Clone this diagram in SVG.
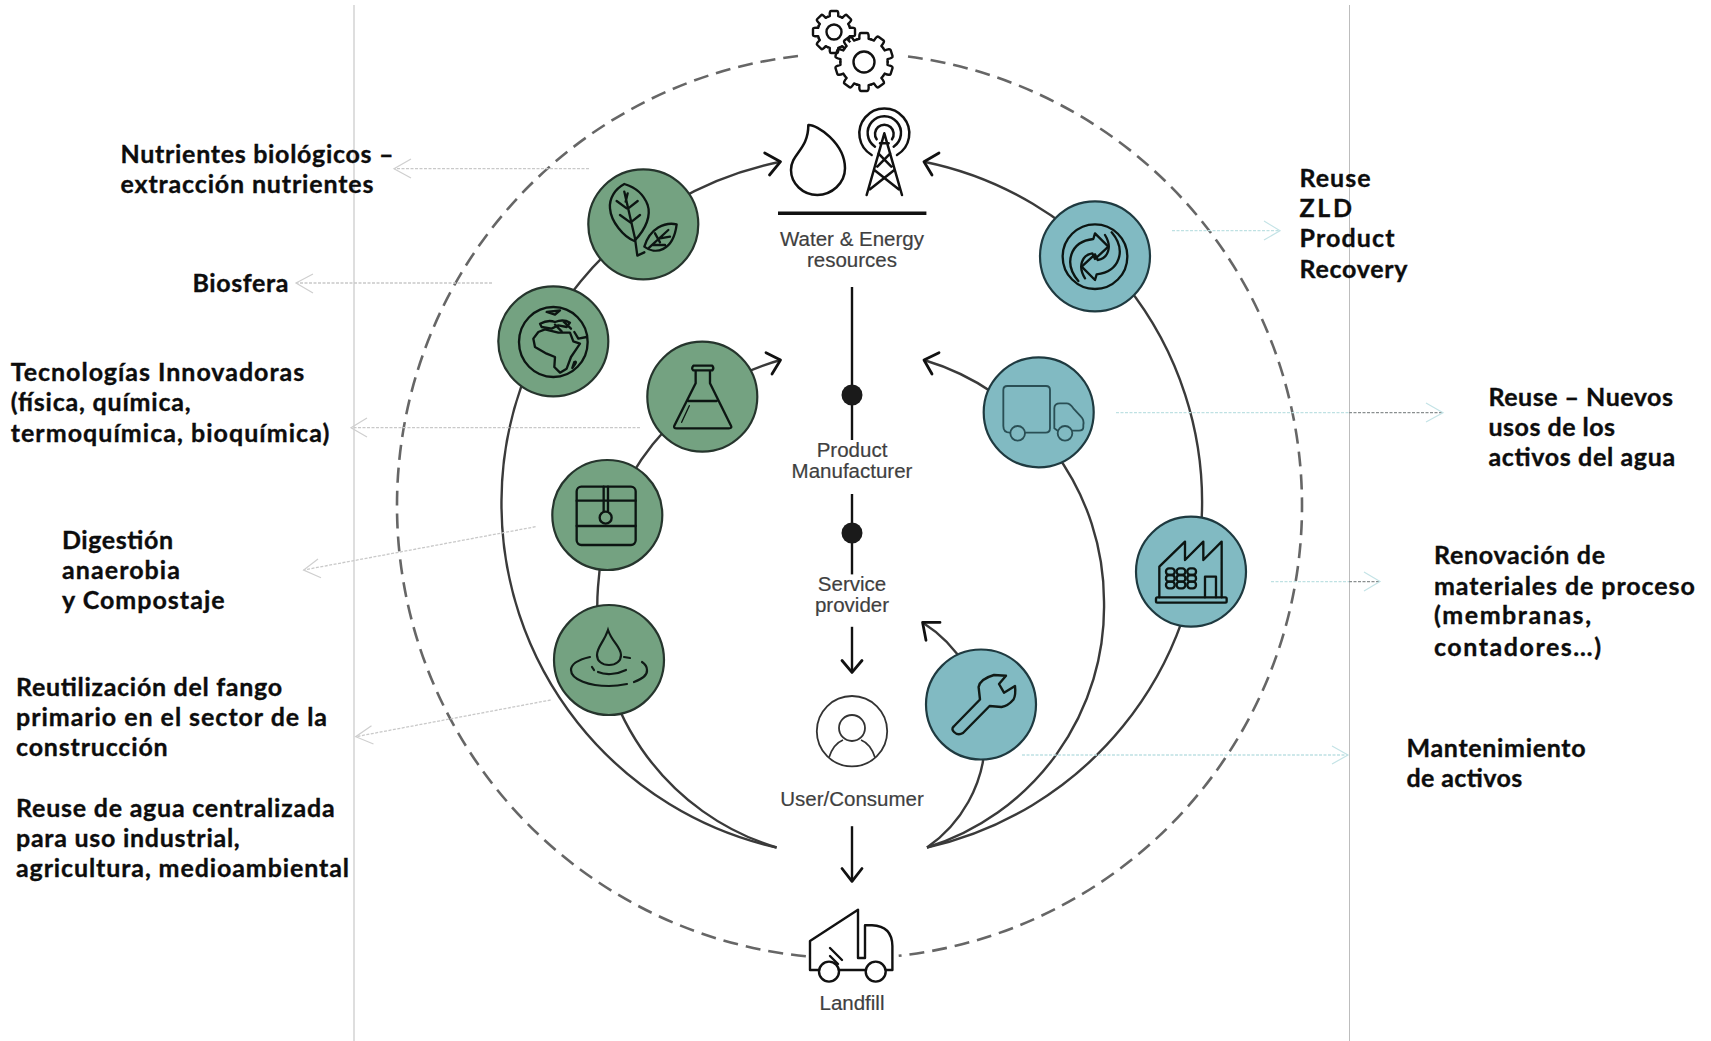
<svg xmlns="http://www.w3.org/2000/svg" xmlns:xlink="http://www.w3.org/1999/xlink" width="1711" height="1041" viewBox="0 0 1711 1041">
<style>
.bg{fill:#fff}
.guide{stroke:#bdbdbd;stroke-width:1;fill:none}
.dash{stroke:#666;stroke-width:2.6;fill:none;stroke-dasharray:15 8}
.cv{stroke:#3a3a3a;stroke-width:2.4;fill:none}
.bk{stroke:#111;stroke-width:2.8;fill:none;stroke-linecap:round;stroke-linejoin:round}
.gl{stroke:#c9c9c9;stroke-width:1.3;fill:none;stroke-dasharray:3 1.5}
.gh{stroke:#cfcfcf;stroke-width:1.2;fill:none}
.tl{stroke:#bfe1e3;stroke-width:1.3;fill:none;stroke-dasharray:3 1.5}
.th{stroke:#c4e3e6;stroke-width:1.2;fill:none}
.dl{stroke:#8a8f90;stroke-width:1.3;fill:none;stroke-dasharray:3 1.5}
.g{fill:#74a281;stroke:#26352d;stroke-width:2.2}
.t{fill:#81bac2;stroke:#1f3a40;stroke-width:2.2}
.i{fill:none;stroke:#0c1512;stroke-width:7;stroke-linecap:round;stroke-linejoin:round}
.it{fill:none;stroke:#2a4f55;stroke-width:5.500;stroke-linecap:round;stroke-linejoin:round}
.ln{fill:none;stroke:#111;stroke-width:2.400;stroke-linecap:round;stroke-linejoin:round}
.lbl{font-family:"Lato","Liberation Sans",sans-serif;font-weight:700;font-size:25px;fill:#0d0d0d;stroke:#0d0d0d;stroke-width:.35}
.sm{font-family:"Liberation Sans",Arial,sans-serif;font-size:20.5px;fill:#3f3f3f;text-anchor:middle;stroke:#3f3f3f;stroke-width:.2}
</style>
<defs>
<path id="t8" d="M-6.3 -15.2 L-4.2 -15.8 Q-4.6 -21 -3 -21 L3 -21 Q4.6 -21 4.2 -15.8 L6.3 -15.2"/>
<path id="t10" d="M-7.3 -22.5 L-4.6 -23.2 Q-5 -29 -3.2 -29 L3.2 -29 Q5 -29 4.6 -23.2 L7.3 -22.5"/>
</defs>
<rect class="bg" width="1711" height="1041"/>
<g id="guides">
<line class="guide" x1="354" y1="5" x2="354" y2="1041"/>
<line class="guide" x1="1349.5" y1="5" x2="1349.5" y2="1041"/>
</g>
<g id="connectors">
<path class="dash" d="M798 56 A452.500 452.500 0 0 0 397 505.500 A452.500 452.500 0 0 0 809 956.500"/>
<path class="dash" d="M908 56.500 A452.500 452.500 0 0 1 1302 505.500 A452.500 452.500 0 0 1 898.700 955.800"/>
<path class="cv" d="M776.600 847.500 A352 352 0 0 1 501.500 500 A347 347 0 0 1 780.500 161.700"/>
<path class="bk" d="M764.700 153 L780.500 161.700 L769.500 175"/>
<path class="cv" d="M927 847.500 A352 352 0 0 0 1202 510 A347 347 0 0 0 924 161.700"/>
<path class="bk" d="M939 153 L924 161.700 L932 175"/>
<path class="cv" d="M776.600 847.500 A252 252 0 0 1 598 587 A250 250 0 0 1 780.500 360"/>
<path class="bk" d="M766 352.700 L780.500 360 L772 374"/>
<path class="cv" d="M927 847.500 A252 252 0 0 0 1104 601 A252 252 0 0 0 924 360"/>
<path class="bk" d="M939 352.700 L924 360 L932 374"/>
<path class="cv" d="M927 847.500 A135 135 0 0 0 922.600 622.400"/>
<path class="bk" d="M940 622.400 L922.600 622.400 L926 640.300"/>
<line x1="778" y1="213.300" x2="926.400" y2="213.300" stroke="#111" stroke-width="3.400"/>
<g stroke="#111" stroke-width="2.400" fill="none">
<line x1="852" y1="287" x2="852" y2="440"/>
<line x1="852" y1="494" x2="852" y2="574.400"/>
<line x1="852" y1="626.800" x2="852" y2="672.400"/>
<path class="bk" d="M842 660.500 L852 672.400 L862 660.500"/>
<line x1="852" y1="826.200" x2="852" y2="881.300"/>
<path class="bk" d="M842 868.500 L852 881.300 L862 868.500"/>
</g>
<circle cx="852" cy="395" r="10.500" fill="#1a1a1a"/>
<circle cx="852" cy="533" r="10.500" fill="#1a1a1a"/>
<line class="gl" x1="589" y1="168.700" x2="394" y2="168.700"/><path class="gh" d="M411 159 L394 168.700 L411 178"/>
<line class="gl" x1="492" y1="283" x2="296" y2="283"/><path class="gh" d="M313 274 L296 283 L313 293"/>
<line class="gl" x1="640" y1="427.700" x2="351" y2="427.700"/><path class="gh" d="M367 418 L351 427.700 L367 437"/>
<line class="gl" x1="535.600" y1="526.700" x2="303.600" y2="570"/><path class="gh" d="M318 559 L303.600 570 L321 577.700"/>
<line class="gl" x1="550.600" y1="700" x2="355.700" y2="736.700"/><path class="gh" d="M371.500 725.700 L355.700 736.700 L373.500 744"/>
<line class="tl" x1="1172" y1="230.700" x2="1280" y2="230.700"/><path class="th" d="M1264 221 L1280 230.700 L1264 240"/>
<line class="tl" x1="1116" y1="412.700" x2="1349" y2="412.700"/><line class="dl" x1="1349" y1="412.700" x2="1443" y2="412.700"/><path class="th" d="M1426 403 L1443 412.700 L1426 422"/>
<line class="tl" x1="1271" y1="581.600" x2="1349" y2="581.600"/><line class="dl" x1="1349" y1="581.600" x2="1380" y2="581.600"/><path class="th" d="M1364 572 L1380 581.600 L1364 591"/>
<line class="tl" x1="1022" y1="755" x2="1348" y2="755"/><path class="th" d="M1332 746 L1348 755 L1332 764"/>
</g>
<g id="gears" class="ln">
<g transform="translate(834 32)"><circle r="16" fill="#fff" stroke="none"/><use xlink:href="#t8"/><use xlink:href="#t8" transform="rotate(45)"/><use xlink:href="#t8" transform="rotate(90)"/><use xlink:href="#t8" transform="rotate(135)"/><use xlink:href="#t8" transform="rotate(180)"/><use xlink:href="#t8" transform="rotate(225)"/><use xlink:href="#t8" transform="rotate(270)"/><use xlink:href="#t8" transform="rotate(315)"/><circle r="7.500"/></g>
<g transform="translate(864 62)"><circle r="24" fill="#fff" stroke="none"/><use xlink:href="#t10"/><use xlink:href="#t10" transform="rotate(36)"/><use xlink:href="#t10" transform="rotate(72)"/><use xlink:href="#t10" transform="rotate(108)"/><use xlink:href="#t10" transform="rotate(144)"/><use xlink:href="#t10" transform="rotate(180)"/><use xlink:href="#t10" transform="rotate(216)"/><use xlink:href="#t10" transform="rotate(252)"/><use xlink:href="#t10" transform="rotate(288)"/><use xlink:href="#t10" transform="rotate(324)"/><circle r="10.500"/></g>
</g>
<g id="node-resources">
<g transform="translate(780 100) scale(.3333)" fill="none" stroke="#111" stroke-width="7.500" stroke-linecap="round" stroke-linejoin="round">
<path d="M85 75 C110 72 195 130 195 205 C195 250 155 285 112 285 C68 285 33 250 33 210 C33 160 85 150 85 75 Z"/>
<path d="M275 165 A75 75 0 1 1 351 165"/>
<path d="M285 140 A50 50 0 1 1 341 140"/>
<path d="M290 118 A28 28 0 1 1 336 118"/>
<path d="M313 100 L260 285 M313 100 L366 285 M300 130 L326 130 M295 160 L334 200 M331 160 L292 200 M283 210 L356 268 M343 210 L270 268"/>
</g>
<text class="sm" x="852" y="246">Water &amp; Energy</text>
<text class="sm" x="852" y="266.500">resources</text>
</g>
<g id="node-product"><text class="sm" x="852" y="456.700">Product</text><text class="sm" x="852" y="477.700">Manufacturer</text></g>
<g id="node-service"><text class="sm" x="852" y="590.600">Service</text><text class="sm" x="852" y="611.600">provider</text></g>
<g id="node-user">
<circle cx="852" cy="731.200" r="35.200" fill="none" stroke="#333" stroke-width="1.800"/>
<ellipse cx="852" cy="728" rx="13" ry="13" fill="none" stroke="#333" stroke-width="1.800"/>
<path d="M829 757.500 C832 748 838 742 843 740 M875 757.500 C872 748 866 742 861 740" fill="none" stroke="#333" stroke-width="1.800"/>
<text class="sm" x="852" y="806">User/Consumer</text>
</g>
<g id="node-landfill">
<path class="ln" d="M819 970 L810 970 L810 941 L858 909.700 L858 958 L865 958 L865 925.300 L872 925.300 Q892 926 892.400 946 L892.400 970 L886 970 M839 970 L865 970 M830 948 L842 960 M830 956 L838 964"/>
<circle class="ln" cx="829" cy="971.600" r="10"/><circle class="ln" cx="875.700" cy="971.600" r="10"/>
<text class="sm" x="852" y="1009.800">Landfill</text>
</g>
<g id="node-leaf">
<circle class="g" cx="643.300" cy="224.300" r="55"/>
<g class="i" transform="translate(585 165) scale(.3333)">
<path d="M118 57 C90 72 72 100 75 130 C78 170 115 215 148 228 C185 190 198 150 188 120 C175 85 145 65 118 57 Z"/>
<path d="M118 80 L150 220 L157 272 L178 262 M122 110 L128 85 M130 130 L158 108 M140 170 L165 150 M105 150 L140 175 M95 108 L125 130"/>
<path d="M275 178 C240 170 195 190 178 245 C210 270 265 260 275 178 Z M190 250 L250 195 M205 240 L240 240 M225 220 L255 215 M210 205 L225 232"/>
</g>
</g>
<g id="node-globe">
<circle class="g" cx="553.300" cy="341.300" r="55"/>
<g class="i" transform="translate(495 282) scale(.3333)">
<ellipse cx="175" cy="180" rx="103" ry="105"/>
<path d="M130 150 L115 170 L120 195 L155 215 L180 225 L178 255 L195 272 L215 260 L228 225 L245 200 L255 185 L235 178 L225 152 L190 152 L150 142 Z"/>
<path d="M135 125 Q160 112 180 120 Q205 110 225 122 L215 135 L190 130 L170 140 L140 135 Z M155 90 L195 85 L180 98 Z M238 150 L250 170 L275 165 M238 240 Q250 235 232 258 Z M180 128 L200 148 M205 118 L228 140"/>
</g>
</g>
<g id="node-flask">
<circle class="g" cx="702.300" cy="396.700" r="55"/>
<g class="i" transform="translate(545 335) scale(.3333)">
<path d="M445 92 H502 Q508 100 502 106 H445 Q438 100 445 92 Z M452 106 V145 L388 272 Q385 280 395 280 H552 Q562 280 558 272 L495 145 V106 M430 198 H515"/>
<path d="M433 212 L410 262" stroke-width="4"/>
</g>
</g>
<g id="node-digest">
<circle class="g" cx="607.300" cy="515" r="55"/>
<g class="i" transform="translate(545 335) scale(.3333)">
<rect x="95" y="455" width="177" height="175" rx="14"/>
<path d="M95 497 H272 M95 573 H272 M176 455 V528 M189 455 V528"/>
<circle cx="182" cy="548" r="18"/>
</g>
</g>
<g id="node-drop">
<circle class="g" cx="609" cy="660" r="55"/>
<g fill="none" stroke="#101a16" stroke-width="2.200" stroke-linecap="round">
<path d="M608 630 C604 642 597 647 597 655 C597 661 602 665 609 665 C616 665 621 661 621 655 C621 647 612 642 608 630 Z"/>
<path d="M590 657 C577 660 571 664 571 670 C571 680 590 686 609 686 C616 686 622 685 627 684 M634 682 C642 679 647.500 675 647 670 C647 667 645 664 642 662 M624 657 L630 658"/>
<path d="M592 667 L594 670 M598 672 C605 675 616 675 626 670"/>
</g>
</g>
<g id="node-recycle">
<circle class="t" cx="1095" cy="256.300" r="55"/>
<g class="i" transform="translate(1035 195) scale(.3333)">
<circle cx="180" cy="185" r="97"/>
<path d="M130 258 C85 205 105 140 175 132 L180 115 L220 155 L180 192 L172 175 C140 180 128 215 150 250"/>
<path transform="rotate(180 180 185)" d="M130 258 C85 205 105 140 175 132 L180 115 L220 155 L180 192 L172 175 C140 180 128 215 150 250"/>
</g>
</g>
<g id="node-truck">
<circle class="t" cx="1038.700" cy="412.300" r="55"/>
<g class="it" transform="translate(975 350) scale(.3333)">
<path d="M105 248 Q85 248 85 228 V120 Q85 108 97 108 H213 Q225 108 225 120 V235 Q225 248 212 248 H150"/>
<circle cx="128" cy="250" r="22"/><circle cx="270" cy="250" r="22"/>
<path d="M248 242 L238 235 V175 Q238 160 255 160 H275 Q285 160 295 175 L318 200 Q328 210 325 225 V232 Q325 242 312 242 H292"/>
</g>
</g>
<g id="node-factory">
<circle class="t" cx="1191" cy="571.700" r="55"/>
<g class="i" transform="translate(1130 510) scale(.3333)">
<rect x="78" y="262" width="212" height="16" rx="4"/>
<path d="M88 262 V170 L165 95 V150 L220 95 V150 L275 95 V262"/>
<rect x="108" y="175" width="26" height="20" rx="9"/><rect x="140" y="175" width="26" height="20" rx="9"/><rect x="172" y="175" width="26" height="20" rx="9"/>
<rect x="108" y="195" width="26" height="20" rx="9"/><rect x="140" y="195" width="26" height="20" rx="9"/><rect x="172" y="195" width="26" height="20" rx="9"/>
<rect x="108" y="215" width="26" height="20" rx="9"/><rect x="140" y="215" width="26" height="20" rx="9"/><rect x="172" y="215" width="26" height="20" rx="9"/>
<path d="M225 262 V200 H258 V262"/>
</g>
</g>
<g id="node-wrench">
<circle class="t" cx="981" cy="704.500" r="55"/>
<path d="M953.700 726.500 L980 699.500 L978.600 687 Q980 679 994 675 L1006 675.800 L999 684 L1004 692.700 L1015 686 Q1016 695 1013.500 699.500 Q1008 706 1001.500 707 L989.600 706 L963 733 Q958 736 954 732 Q951 729 953.700 726.500 Z" fill="none" stroke="#101a16" stroke-width="2.400" stroke-linejoin="round"/>
</g>
<g id="labels-left">
<text class="lbl" lengthAdjust="spacing" textLength="273" x="120.500" y="162.700">Nutrientes biológicos –</text>
<text class="lbl" lengthAdjust="spacing" textLength="253" x="120.500" y="192.700">extracción nutrientes</text>
<text class="lbl" lengthAdjust="spacing" textLength="96" x="192.500" y="291.700">Biosfera</text>
<text class="lbl" lengthAdjust="spacing" textLength="293.500" x="10.700" y="380.700">Tecnologías Innovadoras</text>
<text class="lbl" lengthAdjust="spacing" textLength="180" x="10.700" y="411">(física, química,</text>
<text class="lbl" lengthAdjust="spacing" textLength="318.600" x="10.700" y="441.700">termoquímica, bioquímica)</text>
<text class="lbl" lengthAdjust="spacing" textLength="111" x="62" y="549">Digestión</text>
<text class="lbl" lengthAdjust="spacing" textLength="118" x="62" y="579">anaerobia</text>
<text class="lbl" lengthAdjust="spacing" textLength="162.600" x="62" y="609">y Compostaje</text>
<text class="lbl" lengthAdjust="spacing" textLength="266" x="16" y="695.700">Reutilización del fango</text>
<text class="lbl" lengthAdjust="spacing" textLength="311" x="16" y="725.700">primario en el sector de la</text>
<text class="lbl" lengthAdjust="spacing" textLength="151.700" x="16" y="755.700">construcción</text>
<text class="lbl" lengthAdjust="spacing" textLength="318.600" x="16" y="816.700">Reuse de agua centralizada</text>
<text class="lbl" lengthAdjust="spacing" textLength="223.700" x="16" y="847">para uso industrial,</text>
<text class="lbl" lengthAdjust="spacing" textLength="333" x="16" y="877">agricultura, medioambiental</text>
</g>
<g id="labels-right">
<text class="lbl" lengthAdjust="spacing" textLength="71" x="1299.500" y="187">Reuse</text>
<text class="lbl" lengthAdjust="spacing" textLength="52.400" x="1299.500" y="217">ZLD</text>
<text class="lbl" lengthAdjust="spacing" textLength="95" x="1299.500" y="247">Product</text>
<text class="lbl" lengthAdjust="spacing" textLength="108" x="1299.500" y="278">Recovery</text>
<text class="lbl" lengthAdjust="spacing" textLength="184.400" x="1488.500" y="405.700">Reuse – Nuevos</text>
<text class="lbl" lengthAdjust="spacing" textLength="126.600" x="1488.500" y="436">usos de los</text>
<text class="lbl" lengthAdjust="spacing" textLength="186.600" x="1488.500" y="466">activos del agua</text>
<text class="lbl" lengthAdjust="spacing" textLength="171" x="1434" y="564">Renovación de</text>
<text class="lbl" lengthAdjust="spacing" textLength="260.800" x="1434" y="595">materiales de proceso</text>
<text class="lbl" lengthAdjust="spacing" textLength="157" x="1434" y="624">(membranas,</text>
<text class="lbl" lengthAdjust="spacing" textLength="167" x="1434" y="656">contadores…)</text>
<text class="lbl" lengthAdjust="spacing" textLength="179" x="1406.500" y="757">Mantenimiento</text>
<text class="lbl" lengthAdjust="spacing" textLength="115.700" x="1406.500" y="787">de activos</text>
</g>
</svg>
